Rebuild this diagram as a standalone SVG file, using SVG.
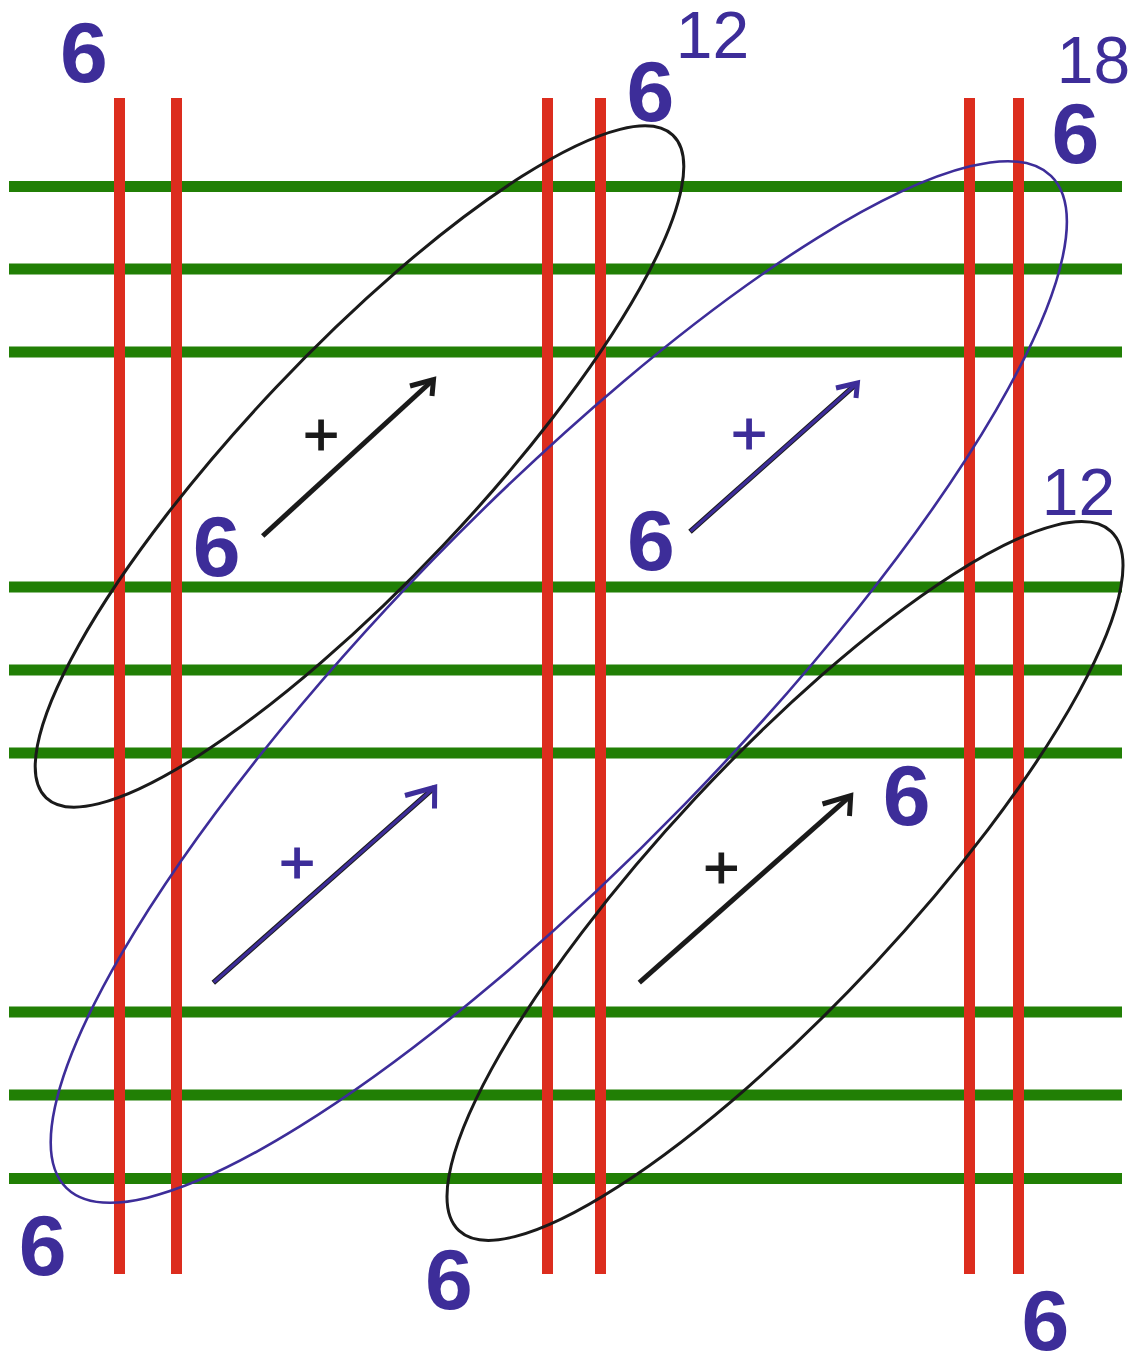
<svg xmlns="http://www.w3.org/2000/svg" width="1137" height="1351" viewBox="0 0 1137 1351">
<style>
.g{stroke:#217F05;stroke-width:11;fill:none}
.r{stroke:#DC2D1E;stroke-width:11;fill:none}
.eb{fill:none;stroke:#1A1A1A;stroke-width:3}
.eu{fill:none;stroke:#3D2D99;stroke-width:2.6}
.ak{fill:none;stroke:#1A1A1A;stroke-width:5;stroke-linejoin:miter;stroke-miterlimit:10}
.ao{fill:none;stroke:#1A1A1A;stroke-width:5.2}
.ai{fill:none;stroke:#3D2D99;stroke-width:3.2}
.ah{fill:none;stroke:#3D2D99;stroke-width:5;stroke-linejoin:miter;stroke-miterlimit:10}
.six{font-family:"Liberation Sans",Arial,sans-serif;font-weight:bold;font-size:86px;fill:#3D2D99;text-anchor:middle}
.num{font-family:"Liberation Sans",Arial,sans-serif;font-size:66px;fill:#3D2D99;text-anchor:middle}
.pk{font-family:"Liberation Sans",Arial,sans-serif;font-size:62px;fill:#1A1A1A;stroke:#1A1A1A;stroke-width:1.2;text-anchor:middle}
.pb{font-family:"Liberation Sans",Arial,sans-serif;font-size:62px;fill:#3D2D99;stroke:#3D2D99;stroke-width:1.2;text-anchor:middle}
</style>
<rect width="1137" height="1351" fill="#FFFFFF"/>
<g id="green-lines">
<line class="g" x1="9" y1="186.5" x2="1122" y2="186.5"/>
<line class="g" x1="9" y1="269" x2="1122" y2="269"/>
<line class="g" x1="9" y1="352" x2="1122" y2="352"/>
<line class="g" x1="9" y1="587" x2="1122" y2="587"/>
<line class="g" x1="9" y1="670" x2="1122" y2="670"/>
<line class="g" x1="9" y1="753" x2="1122" y2="753"/>
<line class="g" x1="9" y1="1012" x2="1122" y2="1012"/>
<line class="g" x1="9" y1="1095" x2="1122" y2="1095"/>
<line class="g" x1="9" y1="1178.5" x2="1122" y2="1178.5"/>
</g>
<g id="red-lines">
<line class="r" x1="119.5" y1="98" x2="119.5" y2="1274"/>
<line class="r" x1="176.5" y1="98" x2="176.5" y2="1274"/>
<line class="r" x1="547.5" y1="98" x2="547.5" y2="1274"/>
<line class="r" x1="600.5" y1="98" x2="600.5" y2="1274"/>
<line class="r" x1="969.5" y1="98" x2="969.5" y2="1274"/>
<line class="r" x1="1018.5" y1="98" x2="1018.5" y2="1274"/>
</g>
<g id="ellipse-upper-left">
<ellipse class="eb" cx="359.5" cy="466.5" rx="456" ry="115" transform="rotate(-46.6 359.5 466.5)"/>
</g>
<g id="ellipse-blue">
<ellipse class="eu" cx="558.8" cy="682" rx="706" ry="175.5" transform="rotate(-45.8 558.8 682)"/>
</g>
<g id="ellipse-lower-right">
<ellipse class="eb" cx="785" cy="881" rx="478" ry="122" transform="rotate(-47 785 881)"/>
</g>
<g id="connectors">
<line class="ak" x1="262.7" y1="536" x2="433.5" y2="379.5"/>
<path class="ak" d="M410,386 L433.5,379.5 L432,396"/>
<line class="ao" x1="690" y1="531.7" x2="857.4" y2="383"/>
<line class="ai" x1="690.6" y1="531.2" x2="857.4" y2="383"/>
<path class="ah" d="M836,388 L857.4,383 L856,398"/>
<line class="ao" x1="213.3" y1="982.7" x2="434.7" y2="787.3"/>
<line class="ai" x1="213.9" y1="982.2" x2="434.7" y2="787.3"/>
<path class="ah" d="M405,795.5 L434.7,787.3 L434.5,808.5"/>
<line class="ak" x1="639.3" y1="982.7" x2="850.7" y2="795.6"/>
<path class="ak" d="M822.5,804 L850.7,795.6 L849.5,816"/>
</g>
<g id="labels">
<text class="six" x="84" y="82">6</text>
<text class="num" x="712.5" y="58">12</text>
<text class="six" x="650.5" y="121">6</text>
<text class="num" x="1093.5" y="83">18</text>
<text class="six" x="1075.5" y="163">6</text>
<text class="pk" x="321" y="455">+</text>
<text class="pb" x="749" y="454">+</text>
<text class="six" x="216.7" y="576">6</text>
<text class="six" x="651" y="570">6</text>
<text class="num" x="1078.5" y="515">12</text>
<text class="pb" x="297" y="883">+</text>
<text class="six" x="906.7" y="825">6</text>
<text class="pk" x="721.3" y="888">+</text>
<text class="six" x="42.7" y="1275">6</text>
<text class="six" x="449" y="1309">6</text>
<text class="six" x="1045.5" y="1350">6</text>
</g>
</svg>
